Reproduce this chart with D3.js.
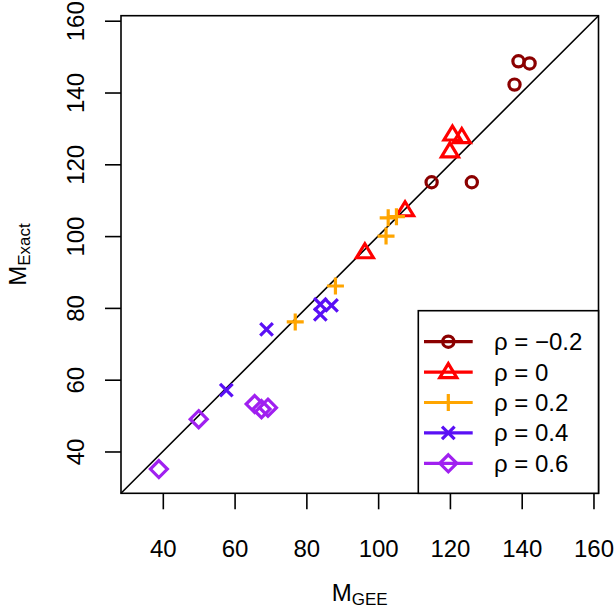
<!DOCTYPE html>
<html><head><meta charset="utf-8">
<script src="https://cdn.jsdelivr.net/npm/d3@7"></script>
<style>body{margin:0;background:#fff}text{font-family:"Liberation Sans",Arial,sans-serif}</style>
</head><body><svg id="c" width="614" height="611"></svg>
<script>
const labels = ["ρ = −0.2", "ρ = 0", "ρ = 0.2", "ρ = 0.4", "ρ = 0.6"];
const colors = ["#8B0000", "#FF0000", "#FFA500", "#5A10F5", "#A020F0"];
const shapes = ["circle", "triangle", "plus", "x", "diamond"];
const geeM02 = [139.1, 142.2, 138.0, 114.9, 126.1];
const exactM02 = [148.7, 148.1, 142.2, 115.0, 115.0];
const gee0 = [120.7, 123.3, 120.0, 107.5, 96.3];
const exact0 = [128.3, 127.6, 123.6, 107.2, 95.5];
const gee02 = [102.8, 105.1, 102.2, 88.1, 76.9];
const exact02 = [105.1, 105.4, 100.0, 86.1, 76.1];
const gee04 = [68.9, 83.9, 87.0, 83.9, 57.7];
const exact04 = [74.0, 81.0, 80.7, 78.2, 57.1];
const gee06 = [38.9, 50.0, 65.6, 67.5, 69.3];
const exact06 = [35.1, 49.0, 53.2, 51.8, 52.2];
const ticks = [40, 60, 80, 100, 120, 140, 160];
const lim = [28.35, 161.4];

const geeAll = [geeM02, gee0, gee02, gee04, gee06];
const exactAll = [exactM02, exact0, exact02, exact04, exact06];

const svg = d3.select("#c");
const L = 121, R = 598.5, T = 15.7, B = 493.3;
const x = d3.scaleLinear().domain(lim).range([L, R]);
const y = d3.scaleLinear().domain(lim).range([B, T]);

function drawSym(g, s, cx, cy, col) {
  const sw = 3.2;
  if (s === "circle") {
    g.append("circle").attr("cx", cx).attr("cy", cy).attr("r", 5.6)
      .attr("fill", "none").attr("stroke", col).attr("stroke-width", sw);
  } else if (s === "triangle") {
    g.append("path").attr("d", `M${cx},${cy-8.5}L${cx+8.5},${cy+5.5}L${cx-8.5},${cy+5.5}Z`)
      .attr("fill", "none").attr("stroke", col).attr("stroke-width", sw).attr("stroke-linejoin", "miter");
  } else if (s === "plus") {
    g.append("path").attr("d", `M${cx-8.5},${cy}H${cx+8.5}M${cx},${cy-8.5}V${cy+8.5}`)
      .attr("fill", "none").attr("stroke", col).attr("stroke-width", sw);
  } else if (s === "x") {
    g.append("path").attr("d", `M${cx-6.3},${cy-6.3}L${cx+6.3},${cy+6.3}M${cx-6.3},${cy+6.3}L${cx+6.3},${cy-6.3}`)
      .attr("fill", "none").attr("stroke", col).attr("stroke-width", sw);
  } else if (s === "diamond") {
    g.append("path").attr("d", `M${cx},${cy-8.5}L${cx+8.5},${cy}L${cx},${cy+8.5}L${cx-8.5},${cy}Z`)
      .attr("fill", "none").attr("stroke", col).attr("stroke-width", sw);
  }
}

// diagonal
svg.append("line").attr("x1", x(lim[0])).attr("y1", y(lim[0])).attr("x2", x(lim[1])).attr("y2", y(lim[1]))
  .attr("stroke", "#000").attr("stroke-width", 1.6);

// points
const pg = svg.append("g");
geeAll.forEach((gs, i) => {
  gs.forEach((v, j) => drawSym(pg, shapes[i], x(v), y(exactAll[i][j]), colors[i]));
});

// axes
const fs = 24;
const xa = svg.append("g").attr("transform", `translate(0,${B})`)
  .call(d3.axisBottom(x).tickValues(ticks).tickSize(16).tickPadding(0).tickFormat(d3.format("d")));
xa.select(".domain").remove();
xa.selectAll("line").attr("stroke", "#000").attr("stroke-width", 1.6);
xa.selectAll("text").attr("font-size", fs).attr("fill", "#000").attr("y", 0).attr("dy", null)
  .attr("transform", "translate(0,64)").style("dominant-baseline", "auto");

const ya = svg.append("g").attr("transform", `translate(${L},0)`)
  .call(d3.axisLeft(y).tickValues(ticks).tickSize(16).tickFormat(d3.format("d")));
ya.select(".domain").remove();
ya.selectAll("line").attr("stroke", "#000").attr("stroke-width", 1.6);
ya.selectAll("text").attr("font-size", fs).attr("fill", "#000")
  .attr("x", null).attr("dy", null).attr("text-anchor", "middle")
  .attr("transform", "translate(-37.5,0) rotate(-90)");

// box
svg.append("rect").attr("x", L).attr("y", T).attr("width", R - L).attr("height", B - T)
  .attr("fill", "none").attr("stroke", "#000").attr("stroke-width", 1.6);

// axis titles
const xt = svg.append("text").attr("x", (L + R) / 2).attr("y", 601).attr("text-anchor", "middle")
  .attr("font-size", fs).attr("fill", "#000");
xt.append("tspan").text("M");
xt.append("tspan").attr("font-size", 17).attr("dy", 4).text("GEE");

const yt = svg.append("text").attr("transform", `translate(26,${(T + B) / 2}) rotate(-90)`)
  .attr("text-anchor", "middle").attr("font-size", fs).attr("fill", "#000");
yt.append("tspan").text("M");
yt.append("tspan").attr("font-size", 17).attr("dy", 4).text("Exact");

// legend
const lx = 418.3, ly = 310.7;
svg.append("rect").attr("x", lx).attr("y", ly).attr("width", R - lx).attr("height", B - ly)
  .attr("fill", "#fff").attr("stroke", "#000").attr("stroke-width", 1.6);
const rowY = d3.scaleLinear().domain([0, labels.length - 1]).range([341.7, 463.3]);
labels.forEach((lab, i) => {
  const cy = rowY(i);
  svg.append("line").attr("x1", 424).attr("x2", 472.7).attr("y1", cy).attr("y2", cy)
    .attr("stroke", colors[i]).attr("stroke-width", 3.2);
  drawSym(svg, shapes[i], 448.3, cy, colors[i]);
  svg.append("text").attr("x", 494).attr("y", cy + 8.5).attr("font-size", fs).attr("fill", "#000")
    .attr("xml:space", "preserve").text(lab);
});
</script></body></html>
